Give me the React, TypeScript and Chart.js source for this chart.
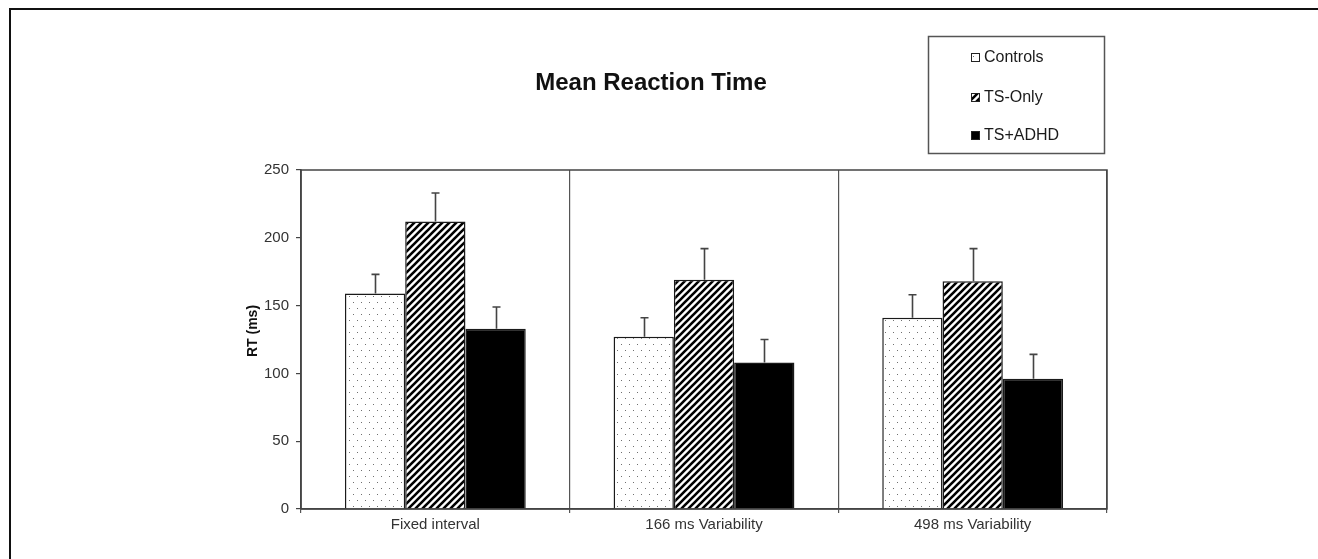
import React, { useEffect, useRef } from "react";
import { Chart, registerables } from "chart.js";

Chart.register(...registerables);

const categories = ["Fixed interval", "166 ms Variability", "498 ms Variability"];
const seriesNames = ["Controls", "TS-Only", "TS+ADHD"];
const controls = [159, 127, 141];
const tsOnly = [212, 169, 168];
const tsAdhd = [133, 108, 96];
const controlsErr = [14, 14, 17];
const tsOnlyErr = [21, 23, 24];
const tsAdhdErr = [16, 17, 18];
const yTicks = [0, 50, 100, 150, 200, 250];

const FONT = "'Liberation Sans', Arial, Helvetica, sans-serif";

function makeDots(): CanvasPattern | string {
  const c = document.createElement("canvas");
  c.width = 8;
  c.height = 12;
  const g = c.getContext("2d")!;
  g.fillStyle = "#ffffff";
  g.fillRect(0, 0, 8, 12);
  g.fillStyle = "#6f6f6f";
  g.fillRect(1, 2, 1, 1);
  g.fillRect(5, 8, 1, 1);
  return g.createPattern(c, "repeat") || "#fff";
}

function makeStripes(): CanvasPattern | string {
  const s = 7;
  const c = document.createElement("canvas");
  c.width = s;
  c.height = s;
  const g = c.getContext("2d")!;
  g.fillStyle = "#ffffff";
  g.fillRect(0, 0, s, s);
  g.strokeStyle = "#000000";
  g.lineWidth = 2.6;
  g.beginPath();
  g.moveTo(-1, s + 1);
  g.lineTo(s + 1, -1);
  g.moveTo(-1, 1);
  g.lineTo(1, -1);
  g.moveTo(s - 1, s + 1);
  g.lineTo(s + 1, s - 1);
  g.stroke();
  return g.createPattern(c, "repeat") || "#000";
}

export default function App() {
  const ref = useRef<HTMLCanvasElement | null>(null);

  useEffect(() => {
    const canvas = ref.current;
    if (!canvas) return;
    const dots = makeDots();
    const stripes = makeStripes();
    const fills = [dots, stripes, "#000000"];
    const errs = [controlsErr, tsOnlyErr, tsAdhdErr];

    const decor = {
      id: "decor",
      afterDatasetsDraw(chart: any) {
        const ctx = chart.ctx;
        const y = chart.scales.y;
        ctx.save();
        ctx.strokeStyle = "#444";
        ctx.lineWidth = 1.6;
        chart.data.datasets.forEach((ds: any, di: number) => {
          const meta = chart.getDatasetMeta(di);
          meta.data.forEach((bar: any, i: number) => {
            const top = y.getPixelForValue(ds.data[i] + errs[di][i]);
            const x = Math.round(bar.x) + 0.5;
            ctx.beginPath();
            ctx.moveTo(x, bar.y);
            ctx.lineTo(x, top);
            ctx.moveTo(x - 4, top);
            ctx.lineTo(x + 4, top);
            ctx.stroke();
          });
        });
        ctx.restore();
      },
      afterDraw(chart: any) {
        const ctx = chart.ctx;
        const a = chart.chartArea;
        ctx.save();
        // plot box
        ctx.strokeStyle = "#444";
        ctx.lineWidth = 1.5;
        ctx.strokeRect(a.left, a.top, a.right - a.left, a.bottom - a.top);
        // outer frame (top and left)
        ctx.strokeStyle = "#111";
        ctx.lineWidth = 2;
        ctx.beginPath();
        ctx.moveTo(10, 559);
        ctx.lineTo(10, 9);
        ctx.lineTo(1318, 9);
        ctx.stroke();
        // title
        ctx.fillStyle = "#111";
        ctx.font = `bold 24px ${FONT}`;
        ctx.textAlign = "center";
        ctx.textBaseline = "middle";
        ctx.fillText("Mean Reaction Time", 651, 83);
        // y axis title
        ctx.save();
        ctx.translate(253, 331);
        ctx.rotate(-Math.PI / 2);
        ctx.font = `bold 14px ${FONT}`;
        ctx.fillText("RT (ms)", 0, 0);
        ctx.restore();
        // legend
        ctx.strokeStyle = "#555";
        ctx.lineWidth = 1.5;
        ctx.strokeRect(928.5, 36.5, 176, 117);
        const ys = [57, 97, 135];
        ctx.font = `16px ${FONT}`;
        ctx.textAlign = "left";
        seriesNames.forEach((name, i) => {
          const cy = ys[i];
          ctx.fillStyle = fills[i] as any;
          ctx.fillRect(971, cy - 4, 9, 9);
          ctx.strokeStyle = "#222";
          ctx.lineWidth = 1;
          ctx.strokeRect(971.5, cy - 3.5, 8, 8);
          ctx.fillStyle = "#1a1a1a";
          ctx.fillText(name, 984, cy + 1);
        });
        ctx.restore();
      },
    };

    const chart = new Chart(canvas, {
      type: "bar",
      data: {
        labels: categories,
        datasets: [
          { label: seriesNames[0], data: controls, backgroundColor: fills[0] as any },
          { label: seriesNames[1], data: tsOnly, backgroundColor: fills[1] as any },
          { label: seriesNames[2], data: tsAdhd, backgroundColor: fills[2] as any },
        ].map((d) => ({
          ...d,
          borderColor: "#1a1a1a",
          borderWidth: 1.5,
          barPercentage: 1.0,
          categoryPercentage: 0.673,
        })),
      },
      options: {
        responsive: false,
        animation: false,
        layout: { padding: { left: 226, right: 211, top: 170, bottom: 20 } },
        plugins: {
          legend: { display: false },
          title: { display: false },
          tooltip: { enabled: false },
        },
        scales: {
          x: {
            afterFit: (s: any) => {
              s.height = 30;
            },
            grid: {
              display: true,
              offset: true,
              color: "#555",
              lineWidth: 1.2,
              drawOnChartArea: true,
              tickLength: 4,
            },
            border: { display: true, color: "#444", width: 1.5 },
            ticks: {
              color: "#333",
              font: { family: FONT, size: 15 },
              padding: 3,
            },
          },
          y: {
            min: 0,
            max: 250,
            afterFit: (s: any) => {
              s.width = 75;
            },
            afterBuildTicks: (s: any) => {
              s.ticks = yTicks.map((v) => ({ value: v }));
            },
            grid: {
              display: true,
              drawOnChartArea: false,
              color: "#444",
              tickLength: 5,
              lineWidth: 1.2,
            },
            border: { display: true, color: "#444", width: 1.5 },
            ticks: {
              color: "#333",
              font: { family: FONT, size: 15 },
              padding: 7,
            },
          },
        },
      },
      plugins: [decor],
    });
    return () => chart.destroy();
  }, []);

  return (
    <canvas
      ref={ref}
      width={1318}
      height={559}
      style={{ position: "fixed", left: 0, top: 0, width: 1318, height: 559, background: "#fff" }}
    />
  );
}
